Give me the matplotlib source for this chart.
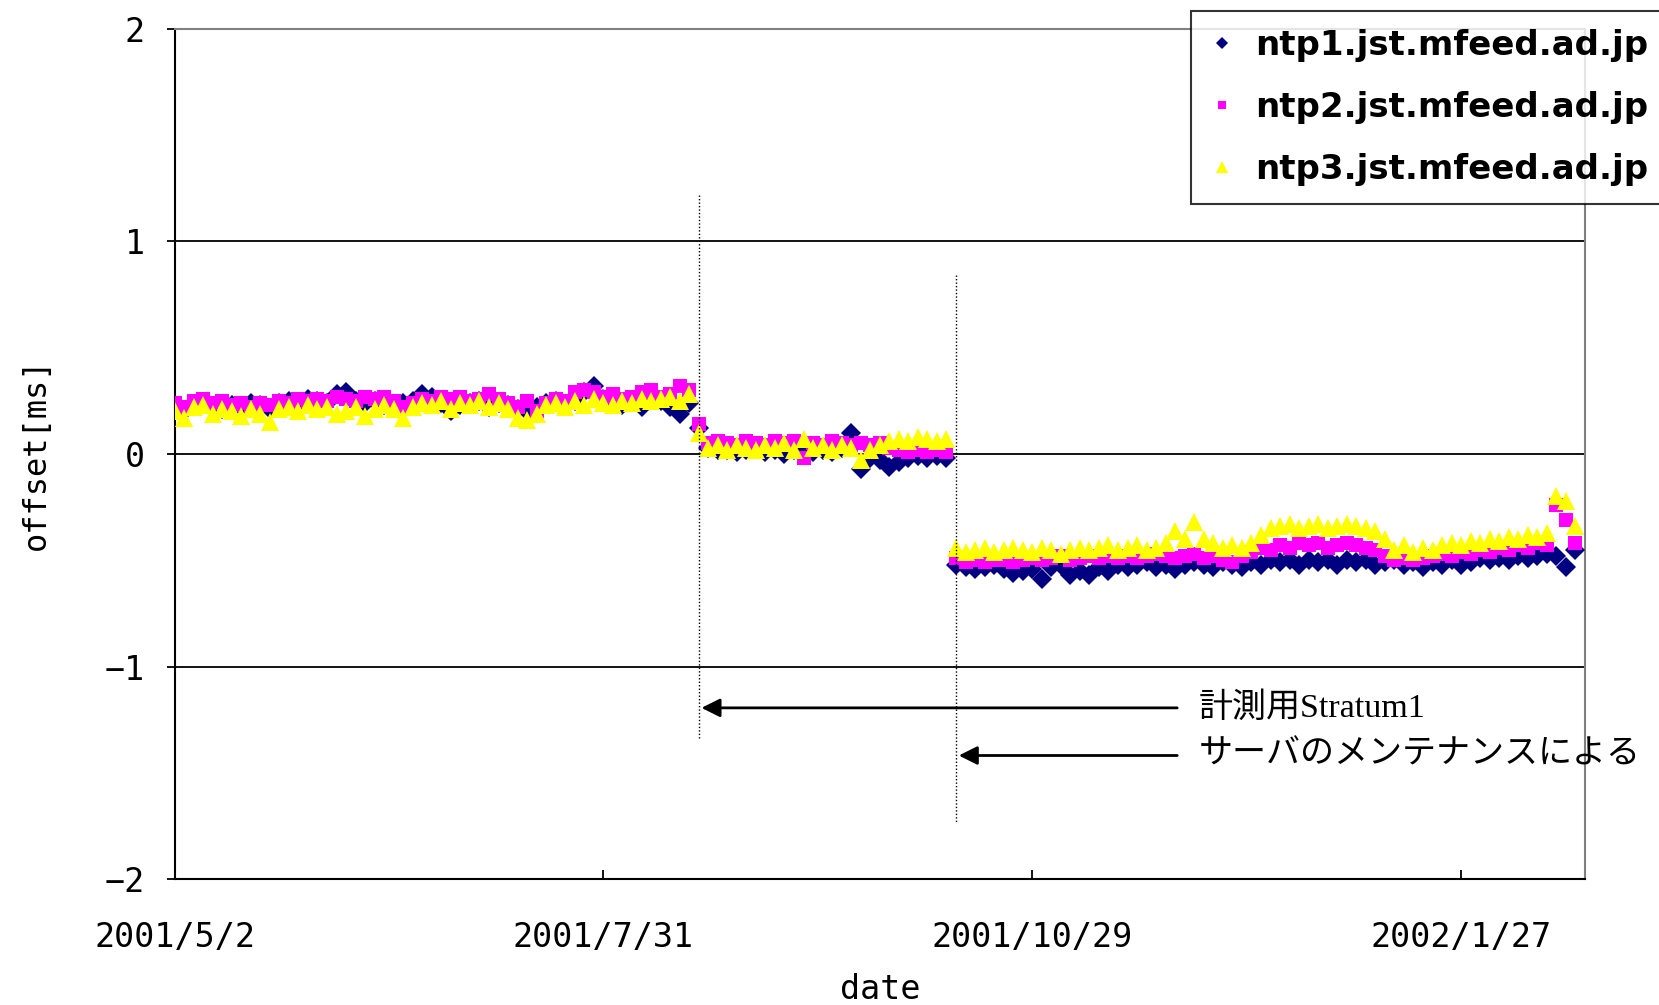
import pandas as pd
import numpy as np
import matplotlib
matplotlib.use('Agg')
import matplotlib.pyplot as plt

# offsets [ms], one reading every 2 days starting 2001/5/2
ntp1 = [0.22, 0.20, 0.23, 0.24, 0.22, 0.21, 0.23, 0.22, 0.24, 0.23,
        0.21, 0.24, 0.25, 0.23, 0.26, 0.25, 0.24, 0.28, 0.29, 0.25,
        0.24, 0.25, 0.23, 0.22, 0.24, 0.25, 0.28, 0.27, 0.24, 0.20,
        0.23, 0.24, 0.25, 0.22, 0.24, 0.23, 0.21, 0.20, 0.22, 0.24,
        0.25, 0.23, 0.25, 0.29, 0.32, 0.26, 0.24, 0.23, 0.25, 0.22,
        0.26, 0.25, 0.22, 0.19, 0.24,
        0.12,
        0.03, 0.02, 0.02, 0.01, 0.02, 0.03, 0.01, 0.02, 0.00, 0.02,
        0.03, 0.01, 0.02, 0.01, 0.03, 0.10, -0.07, -0.02, -0.03, -0.06,
        -0.04, -0.02, -0.01, -0.02, -0.01, -0.02,
        -0.52, -0.53, -0.54, -0.53, -0.52, -0.54, -0.56, -0.55, -0.54, -0.59,
        -0.53, -0.52, -0.57, -0.55, -0.57, -0.53, -0.55, -0.52, -0.53, -0.52,
        -0.51, -0.53, -0.52, -0.54, -0.52, -0.51, -0.52, -0.53, -0.51, -0.52,
        -0.53, -0.51, -0.52, -0.50, -0.51, -0.50, -0.52, -0.50, -0.51, -0.50,
        -0.52, -0.50, -0.51, -0.50, -0.52, -0.51, -0.50, -0.52, -0.51, -0.53,
        -0.51, -0.52, -0.50, -0.52, -0.51, -0.49, -0.50, -0.49, -0.50, -0.48,
        -0.49, -0.48, -0.47, -0.48, -0.53, -0.45]

ntp2 = [0.24, 0.22, 0.25, 0.26, 0.24, 0.25, 0.23, 0.24, 0.22, 0.24,
        0.23, 0.25, 0.24, 0.26, 0.25, 0.26, 0.25, 0.27, 0.26, 0.25,
        0.27, 0.26, 0.27, 0.25, 0.22, 0.24, 0.26, 0.25, 0.27, 0.26,
        0.27, 0.25, 0.26, 0.28, 0.26, 0.24, 0.22, 0.25, 0.20, 0.24,
        0.26, 0.25, 0.29, 0.30, 0.29, 0.27, 0.28, 0.26, 0.27, 0.29,
        0.30, 0.27, 0.28, 0.32, 0.30,
        0.14,
        0.05, 0.06, 0.05, 0.04, 0.06, 0.05, 0.04, 0.06, 0.05, 0.06,
        -0.02, 0.05, 0.04, 0.06, 0.05, 0.04, 0.05, 0.04, 0.05, 0.03,
        0.02, 0.01, 0.02, 0.01, 0.02, 0.01,
        -0.49, -0.51, -0.50, -0.51, -0.50, -0.50, -0.51, -0.50, -0.49, -0.50,
        -0.49, -0.48, -0.50, -0.49, -0.48, -0.49, -0.48, -0.49, -0.48, -0.49,
        -0.48, -0.47, -0.48, -0.49, -0.48, -0.47, -0.49, -0.48, -0.50, -0.51,
        -0.48, -0.46, -0.44, -0.45, -0.43, -0.44, -0.42, -0.43, -0.42, -0.44,
        -0.43, -0.42, -0.43, -0.44, -0.45, -0.48, -0.50, -0.49, -0.50, -0.49,
        -0.48, -0.47, -0.48, -0.46, -0.47, -0.45, -0.46, -0.44, -0.45, -0.43,
        -0.44, -0.42, -0.43, -0.24, -0.31, -0.42]

ntp3 = [0.20, 0.17, 0.22, 0.23, 0.19, 0.21, 0.20, 0.18, 0.21, 0.19,
        0.15, 0.21, 0.22, 0.20, 0.23, 0.21, 0.22, 0.19, 0.20, 0.22,
        0.18, 0.21, 0.23, 0.21, 0.17, 0.22, 0.24, 0.23, 0.25, 0.21,
        0.24, 0.23, 0.25, 0.22, 0.24, 0.21, 0.17, 0.16, 0.19, 0.23,
        0.24, 0.22, 0.25, 0.23, 0.26, 0.24, 0.23, 0.25, 0.24, 0.26,
        0.25, 0.26, 0.27, 0.25, 0.28,
        0.10,
        0.03, 0.04, 0.02, 0.04, 0.03, 0.02, 0.04, 0.03, 0.05, 0.02,
        0.07, 0.03, 0.04, 0.02, 0.04, 0.03, -0.03, 0.02, 0.04, 0.06,
        0.07, 0.06, 0.08, 0.07, 0.06, 0.07,
        -0.44, -0.46, -0.45, -0.44, -0.46, -0.45, -0.44, -0.45, -0.46, -0.44,
        -0.45, -0.47, -0.45, -0.44, -0.45, -0.44, -0.43, -0.45, -0.44, -0.43,
        -0.45, -0.44, -0.42, -0.36, -0.40, -0.32, -0.40, -0.42, -0.44, -0.43,
        -0.44, -0.42, -0.38, -0.35, -0.34, -0.33, -0.35, -0.34, -0.33, -0.35,
        -0.34, -0.33, -0.34, -0.35, -0.36, -0.40, -0.45, -0.43, -0.46, -0.44,
        -0.45, -0.43, -0.42, -0.43, -0.41, -0.42, -0.40, -0.41, -0.39, -0.40,
        -0.38, -0.39, -0.37, -0.20, -0.22, -0.34]

names = ['ntp1.jst.mfeed.ad.jp', 'ntp2.jst.mfeed.ad.jp', 'ntp3.jst.mfeed.ad.jp']
tick_dates = ['2001-05-02', '2001-07-31', '2001-10-29', '2002-01-27']
tick_labels = ['2001/5/2', '2001/7/31', '2001/10/29', '2002/1/27']
events = ['2001-08-20', '2001-10-13']
notes = ['計測用Stratum1', 'サーバのメンテナンスによる']

dates = pd.date_range('2001-05-02', periods=len(ntp1), freq='2D')

fig = plt.figure(figsize=(16.59, 10.05), dpi=100)
ax = fig.add_axes([0.1052, 0.1251, 0.8502, 0.8464])

ax.plot(dates, ntp1, ls='none', marker='D', ms=10.5, mew=0, color='#000080', label=names[0], zorder=3)
ax.plot(dates, ntp2, ls='none', marker='s', ms=9.5, mew=0, color='#FF00FF', label=names[1], zorder=3)
ax.plot(dates, ntp3, ls='none', marker='^', ms=13.5, mew=0, color='#FFFF00', label=names[2], zorder=3)

ax.set_xlim(pd.Timestamp('2001-05-02'), pd.Timestamp('2002-02-22'))
ax.set_ylim(-2, 2)
ax.set_yticks([-2, -1, 0, 1, 2])
ax.set_xticks(pd.to_datetime(tick_dates))
ax.set_xticklabels(tick_labels)

for v in [-1, 0, 1, 2]:
    ax.axhline(v, color='black', lw=1.3, zorder=1)

for s in ['left', 'bottom']:
    ax.spines[s].set_color('black')
    ax.spines[s].set_linewidth(1.5)
for s in ['top', 'right']:
    ax.spines[s].set_color('#808080')
    ax.spines[s].set_linewidth(1.5)

mono = 'DejaVu Sans Mono'
ax.tick_params(axis='y', direction='out', length=5.5, width=1.3, pad=16, labelsize=24)
ax.tick_params(axis='x', direction='in', length=6.5, width=1.3, pad=30, labelsize=24)
for lab in ax.get_xticklabels() + ax.get_yticklabels():
    lab.set_family(mono)

ax.set_xlabel('date', family=mono, fontsize=24, labelpad=14)
ax.set_ylabel('offset[ms]', family=mono, fontsize=23, labelpad=38)

# dotted event lines
ev = pd.to_datetime(events)
ax.plot([ev[0], ev[0]], [1.22, -1.34], color='black', lw=1, ls=(0, (1, 1.5)), zorder=4)
ax.plot([ev[1], ev[1]], [0.84, -1.73], color='black', lw=1, ls=(0, (1, 1.5)), zorder=4)

# arrows with notes
tail = pd.Timestamp('2001-11-29')
txt_x = pd.Timestamp('2001-12-03')
for e, yy, note in zip(ev, [-1.194, -1.418], notes):
    ax.annotate('', xy=(e, yy), xytext=(tail, yy),
                arrowprops=dict(arrowstyle='-|>', color='black', lw=2, mutation_scale=28))
    ax.text(txt_x, yy, note, ha='left', va='center', fontsize=24.5,
            family=['Liberation Serif', 'Noto Sans CJK JP'])

leg = fig.legend(loc='upper left', bbox_to_anchor=(1191 / 1659, 1 - 11 / 1005),
                 frameon=True, fancybox=False, borderaxespad=0, markerscale=0.6,
                 handlelength=0.8, handletextpad=0.55, borderpad=0.52, labelspacing=0.86,
                 prop={'weight': 'bold', 'size': 24.5})
leg.get_frame().set_edgecolor('black')
leg.get_frame().set_linewidth(1.5)

fig.savefig('out.png', dpi=100)
